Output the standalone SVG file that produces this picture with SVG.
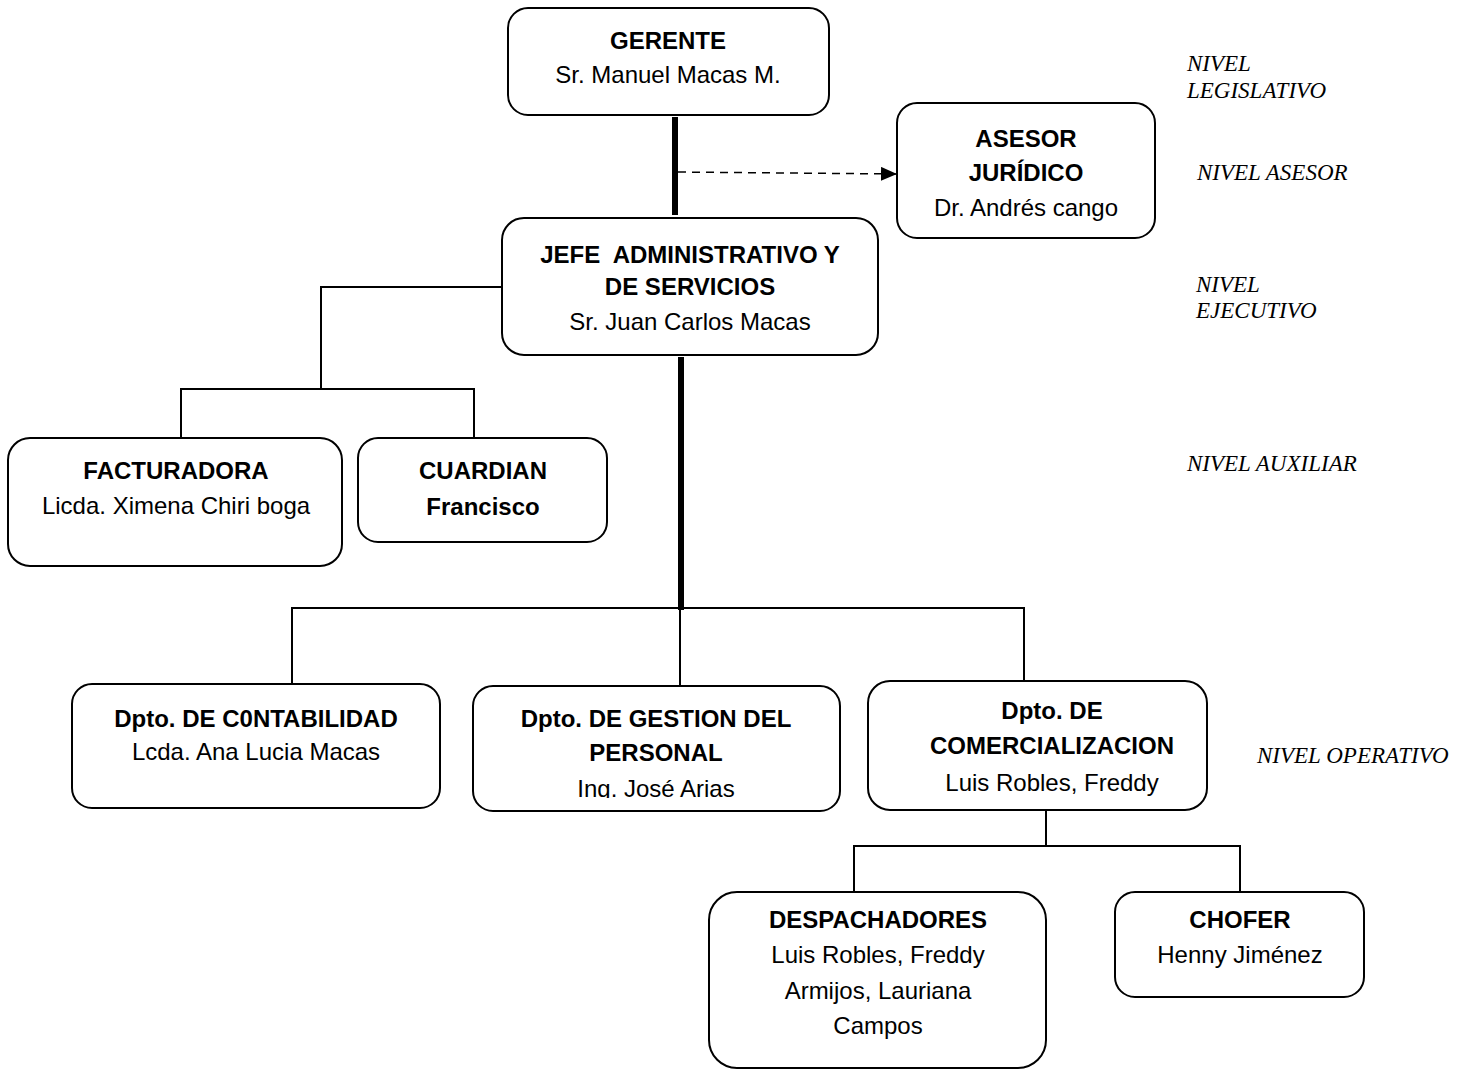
<svg xmlns="http://www.w3.org/2000/svg" width="1461" height="1071" viewBox="0 0 1461 1071">
<defs>
<style>
.box{fill:#fff;stroke:#000;stroke-width:2}
.t{font-family:"Liberation Sans Narrow","Arial Narrow","Liberation Sans",sans-serif;font-size:24px;text-anchor:middle;fill:#000}
.b{font-weight:bold}
.lv{font-family:"Liberation Serif","Times New Roman",serif;font-style:italic;font-size:23px;fill:#000}
.ln{fill:none;stroke:#000;stroke-width:2}
.thick{fill:none;stroke:#000;stroke-width:6}
</style>
<marker id="ah" markerWidth="16" markerHeight="14" refX="15" refY="7" orient="auto" markerUnits="userSpaceOnUse">
<path d="M0,0 L16,7 L0,14 Z" fill="#000"/>
</marker>
<clipPath id="cg"><rect x="473" y="686" width="367" height="112"/></clipPath>
</defs>
<rect width="1461" height="1071" fill="#fff"/>
<g id="connectors">
<line class="thick" x1="675" y1="117" x2="675" y2="215"/>
<line x1="678" y1="172" x2="896" y2="174" stroke="#000" stroke-width="1.5" stroke-dasharray="8,6" marker-end="url(#ah)"/>
<path class="ln" d="M502,287 H321 V389"/>
<path class="ln" d="M181,438 V389 H474 V438"/>
<line class="thick" x1="681" y1="357" x2="681" y2="610"/>
<path class="ln" d="M292,684 V608 H1024 V681"/>
<line class="ln" x1="680" y1="608" x2="680" y2="686"/>
<path class="ln" d="M1046,810 V846"/>
<path class="ln" d="M854,893 V846 H1240 V892"/>
</g>
<g id="gerente">
<rect class="box" x="508" y="8" width="321" height="107" rx="20"/>
<text class="t b" x="668" y="49">GERENTE</text>
<text class="t" x="668" y="83">Sr. Manuel Macas M.</text>
</g>
<g id="asesor">
<rect class="box" x="897" y="103" width="258" height="135" rx="20"/>
<text class="t b" x="1026" y="147">ASESOR</text>
<text class="t b" x="1026" y="181">JURÍDICO</text>
<text class="t" x="1026" y="216">Dr. Andrés cango</text>
</g>
<g id="jefe">
<rect class="box" x="502" y="218" width="376" height="137" rx="22"/>
<text class="t b" x="690" y="263" xml:space="preserve">JEFE  ADMINISTRATIVO Y</text>
<text class="t b" x="690" y="295">DE SERVICIOS</text>
<text class="t" x="690" y="330">Sr. Juan Carlos Macas</text>
</g>
<g id="facturadora">
<rect class="box" x="8" y="438" width="334" height="128" rx="22"/>
<text class="t b" x="176" y="479">FACTURADORA</text>
<text class="t" x="176" y="514">Licda. Ximena Chiri boga</text>
</g>
<g id="cuardian">
<rect class="box" x="358" y="438" width="249" height="104" rx="20"/>
<text class="t b" x="483" y="479">CUARDIAN</text>
<text class="t b" x="483" y="515">Francisco</text>
</g>
<g id="contabilidad">
<rect class="box" x="72" y="684" width="368" height="124" rx="20"/>
<text class="t b" x="256" y="727">Dpto. DE C0NTABILIDAD</text>
<text class="t" x="256" y="760">Lcda. Ana Lucia Macas</text>
</g>
<g id="gestion">
<rect class="box" x="473" y="686" width="367" height="125" rx="20"/>
<text class="t b" x="656" y="727">Dpto. DE GESTION DEL</text>
<text class="t b" x="656" y="761">PERSONAL</text>
<text class="t" x="656" y="797" clip-path="url(#cg)">Ing. José Arias</text>
</g>
<g id="comercializacion">
<rect class="box" x="868" y="681" width="339" height="129" rx="22"/>
<text class="t b" x="1052" y="719">Dpto. DE</text>
<text class="t b" x="1052" y="754">COMERCIALIZACION</text>
<text class="t" x="1052" y="791">Luis Robles, Freddy</text>
</g>
<g id="despachadores">
<rect class="box" x="709" y="892" width="337" height="176" rx="28"/>
<text class="t b" x="878" y="928">DESPACHADORES</text>
<text class="t" x="878" y="963">Luis Robles, Freddy</text>
<text class="t" x="878" y="999">Armijos, Lauriana</text>
<text class="t" x="878" y="1034">Campos</text>
</g>
<g id="chofer">
<rect class="box" x="1115" y="892" width="249" height="105" rx="20"/>
<text class="t b" x="1240" y="928">CHOFER</text>
<text class="t" x="1240" y="963">Henny Jiménez</text>
</g>
<g id="niveles">
<text class="lv" x="1187" y="71">NIVEL</text>
<text class="lv" x="1187" y="98">LEGISLATIVO</text>
<text class="lv" x="1197" y="180">NIVEL ASESOR</text>
<text class="lv" x="1196" y="292">NIVEL</text>
<text class="lv" x="1196" y="318">EJECUTIVO</text>
<text class="lv" x="1187" y="471">NIVEL AUXILIAR</text>
<text class="lv" x="1257" y="763">NIVEL OPERATIVO</text>
</g>
</svg>
